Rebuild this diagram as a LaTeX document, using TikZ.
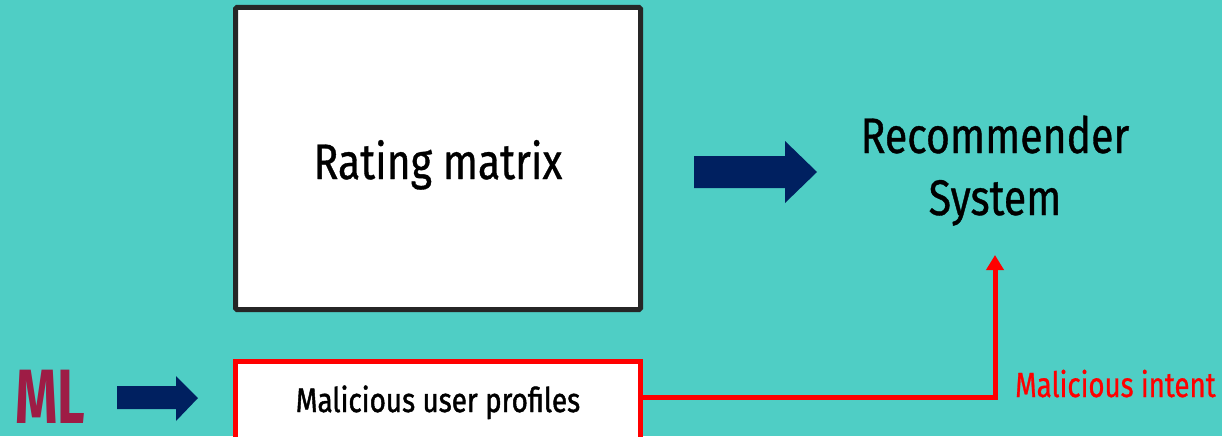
\documentclass[tikz,border=0pt]{standalone}
\usepackage{fontspec}
\setmainfont{Fira Sans}[FakeStretch=0.82,FakeBold=0.7]
\newfontfamily\medfont{Fira Sans}[FakeStretch=0.82,FakeBold=1.3]
\newfontfamily\narrowfont{Fira Sans}[FakeStretch=0.79,FakeBold=0.7]
\newfontfamily\boldfont{Fira Sans Bold}[FakeStretch=0.70]
\usetikzlibrary{arrows.meta}
\definecolor{bg}{HTML}{4FCEC5}
\definecolor{navy}{HTML}{002060}
\definecolor{crimson}{HTML}{9E1C45}
\definecolor{redline}{HTML}{FF0000}
\begin{document}
\begin{tikzpicture}[x=1pt,y=-1pt,
  bigtxt/.style={font=\fontsize{50}{62}\selectfont, text=black, inner sep=0pt},
  blockarrow/.style={fill=navy, draw=none},
  redconn/.style={draw=redline, line width=5pt, -{Triangle[width=17pt,length=15pt]}}]
\fill[bg] (0,0) rectangle (1222,436);
\useasboundingbox (0,0) rectangle (1222,436);
% big box
\draw[line width=5pt, draw=black!85, fill=white, rounded corners=1.5pt] (235.5,7.5) rectangle (640.5,309.5);
\node[bigtxt, anchor=base] (rm) at (438,179) {Rating matrix};
% big navy arrow
\fill[blockarrow] (694,156) -- (785,156) -- (785,141) -- (817,172) -- (785,203) -- (785,188) -- (694,188) -- cycle;
% recommender system
\node[bigtxt, anchor=base, align=center] (rs1) at (995,153) {Recommender};
\node[bigtxt, anchor=base, align=center] (rs2) at (995,215) {System};
% red box
\draw[line width=5pt, draw=redline, fill=white] (235.5,361.5) rectangle (640.5,440);
\node[font=\medfont\fontsize{34}{40}\selectfont, anchor=base, inner sep=0pt] (mup) at (438,412) {Malicious user profiles};
\coordinate (mupE) at (640.5,397);
% ML
\node[font=\boldfont\fontsize{77}{90}\selectfont, text=crimson, anchor=base west, inner sep=0pt, text depth=0pt] (ml) at (15,423) {ML};
% small navy arrow
\fill[blockarrow] (117,386) -- (176,386) -- (176,376) -- (198,398) -- (176,421) -- (176,409) -- (117,409) -- cycle;
% red connector
\coordinate (tip) at (995,255);
\draw[redconn] (mupE) -| (tip);
\node[font=\narrowfont\fontsize{35}{40}\selectfont, text=redline, anchor=base west, inner sep=0pt] (mi) at (1015,397) {Malicious intent};
\end{tikzpicture}
\end{document}
